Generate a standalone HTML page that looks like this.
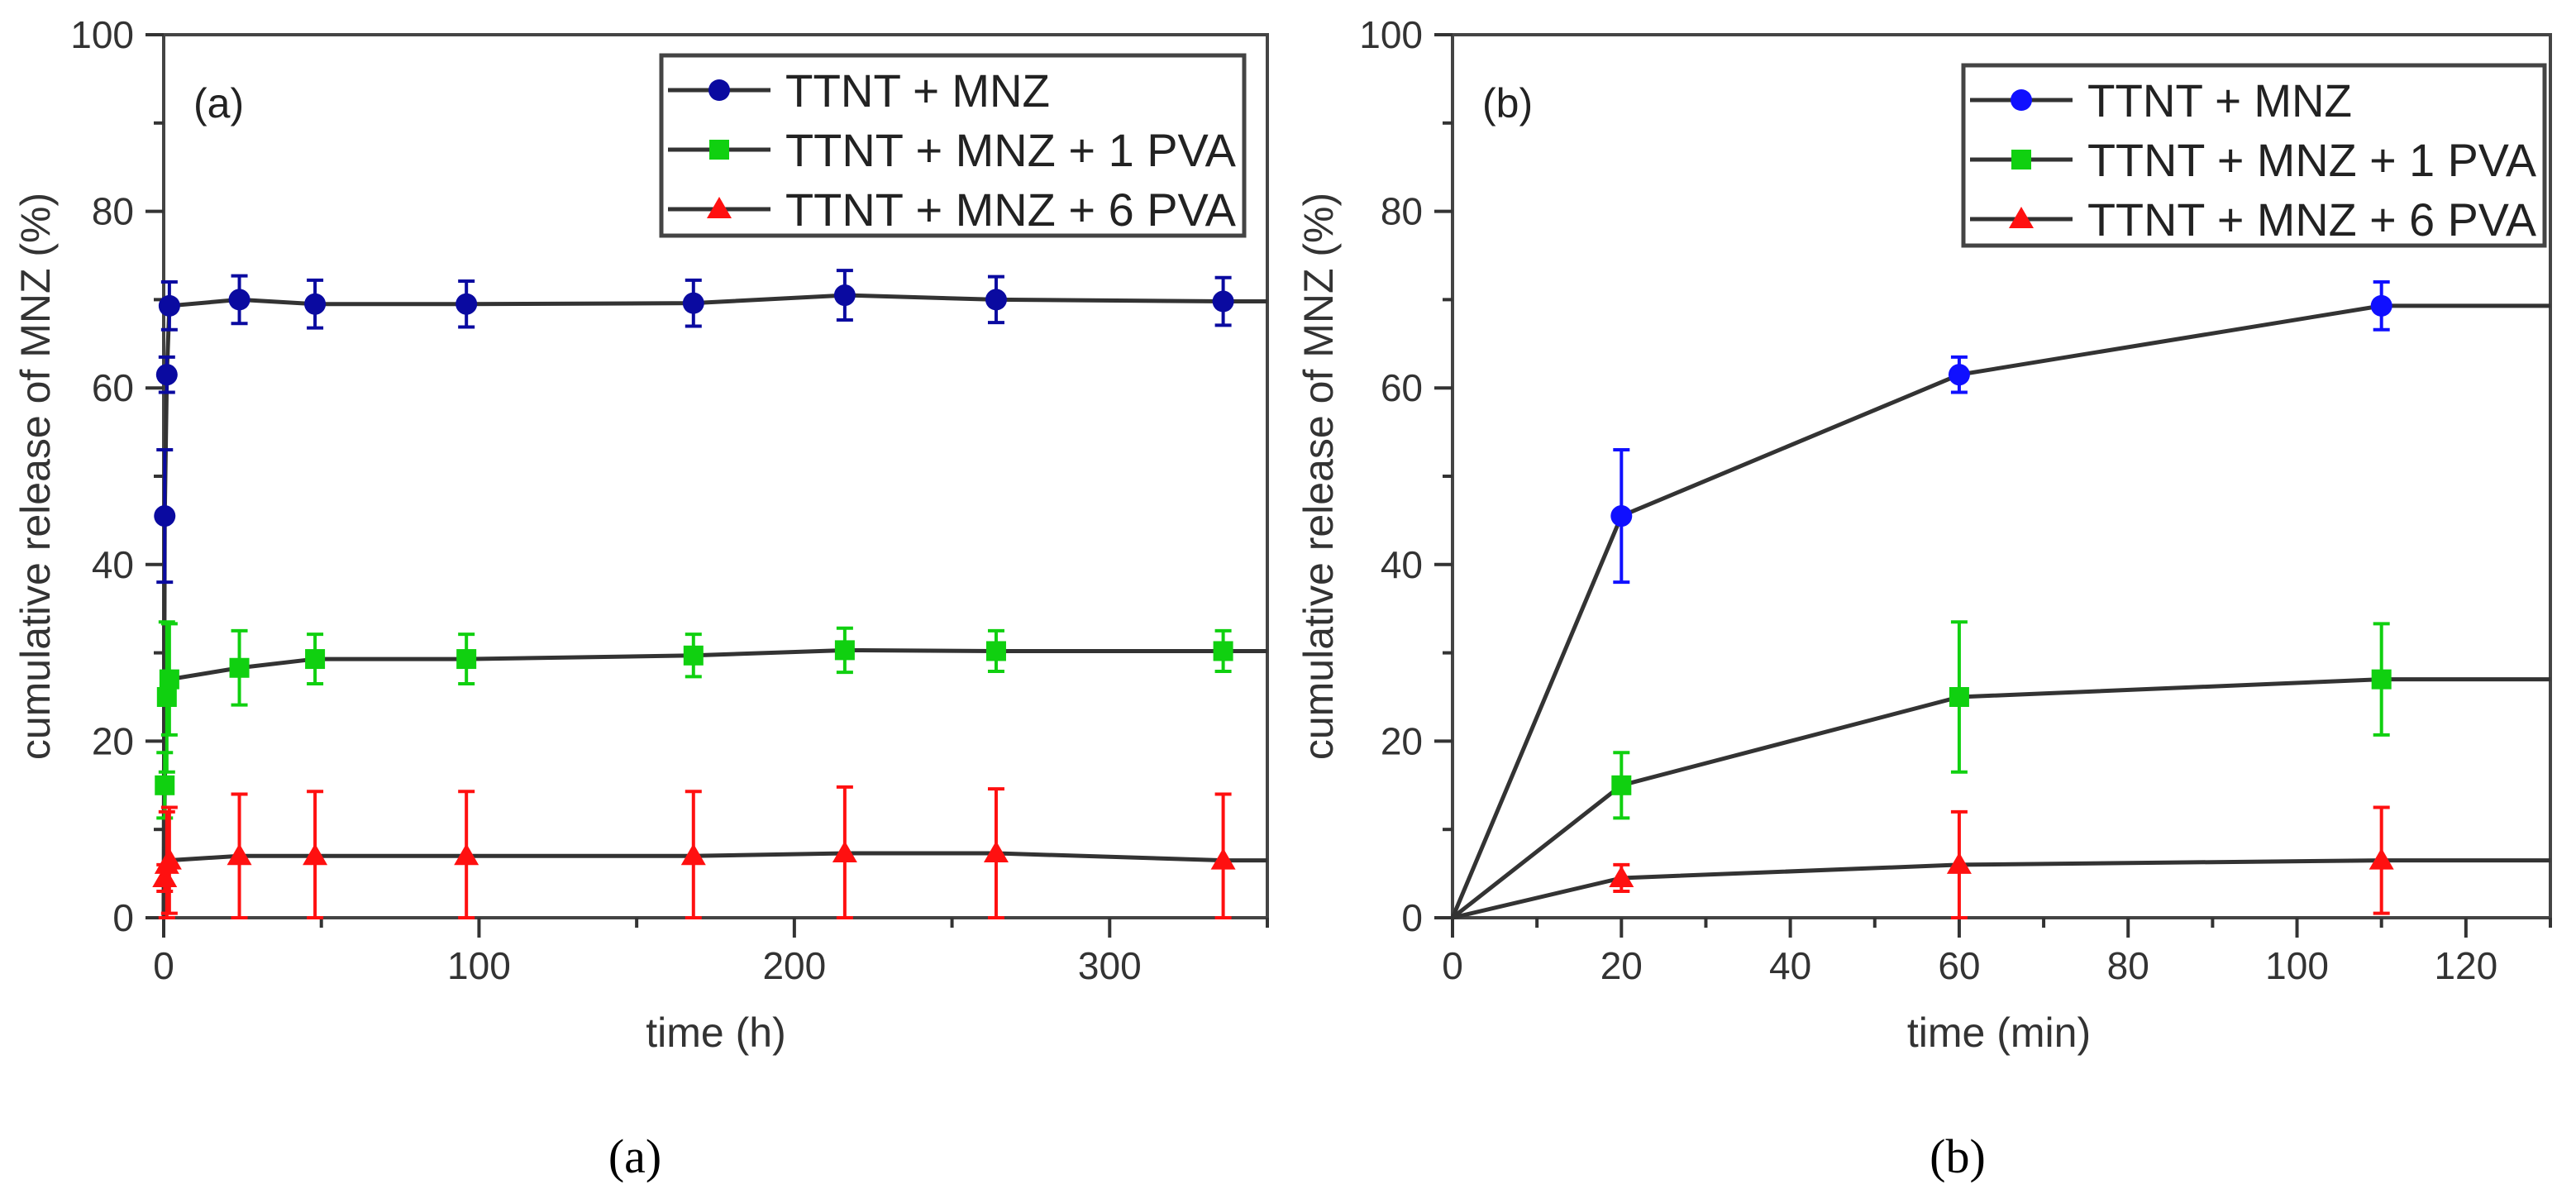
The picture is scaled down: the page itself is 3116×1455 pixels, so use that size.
<!DOCTYPE html>
<html><head><meta charset="utf-8"><style>
html,body{margin:0;padding:0;background:#fff;}
svg{display:block;font-family:"Liberation Sans",Arial,sans-serif;}
</style></head><body>
<svg id="fig" width="3116" height="1455" viewBox="0 0 3116 1455" xmlns="http://www.w3.org/2000/svg">
<rect width="3116" height="1455" fill="#fff"/>
</svg>
<script>
// ---- Panel (a): time in hours ----
const aTime = [0, 0.33, 1, 1.8, 24, 48, 96, 168, 216, 264, 336];
const aBlue = [0, 45.5, 61.5, 69.3, 70, 69.5, 69.5, 69.6, 70.5, 70, 69.8];
const aBlueErr = [0, 7.5, 2, 2.7, 2.7, 2.7, 2.6, 2.6, 2.8, 2.6, 2.7];
const aGreen = [0, 15, 25, 27, 28.3, 29.3, 29.3, 29.7, 30.3, 30.2, 30.2];
const aGreenErr = [0, 3.7, 8.5, 6.3, 4.2, 2.8, 2.8, 2.4, 2.5, 2.3, 2.3];
const aRed = [0, 4.5, 6, 6.5, 7, 7, 7, 7, 7.3, 7.3, 6.5];
const aRedErr = [0, 1.5, 6, 6, 7, 7.3, 7.3, 7.3, 7.5, 7.3, 7.5];
const aXTicks = [0, 100, 200, 300];
// ---- Panel (b): time in minutes ----
const bTime = [0, 20, 60, 110];
const bBlue = [0, 45.5, 61.5, 69.3];
const bBlueErr = [0, 7.5, 2, 2.7];
const bGreen = [0, 15, 25, 27];
const bGreenErr = [0, 3.7, 8.5, 6.3];
const bRed = [0, 4.5, 6, 6.5];
const bRedErr = [0, 1.5, 6, 6];
const bXTicks = [0, 20, 40, 60, 80, 100, 120];
const yTicks = [0, 20, 40, 60, 80, 100];
const legendLabels = ["TTNT + MNZ", "TTNT + MNZ + 1 PVA", "TTNT + MNZ + 6 PVA"];

const NS = "http://www.w3.org/2000/svg";
const svg = document.getElementById('fig');
function mk(tag, attrs, parent, text){
  const e = document.createElementNS(NS, tag);
  for (const k in attrs) e.setAttribute(k, attrs[k]);
  if (text !== undefined) e.textContent = text;
  (parent || svg).appendChild(e);
  return e;
}

function panel(cfg){
  const g = mk('g', {});
  
  
  const L = cfg.left, R = cfg.right, T = 42, B = 1110;
  const sx = v => L + (v - cfg.xmin) / (cfg.xmax - cfg.xmin) * (R - L);
  const sy = v => B - v / 100 * (B - T);
  // frame
  const fr = mk('rect', {x:L, y:T, width:R-L, height:B-T, fill:'none', stroke:'#444', 'stroke-width':4}, g);
  
  
  // y ticks
  for (let v = 0; v <= 100; v += 10){
    const major = v % 20 === 0;
    mk('line', {x1:L - (major?22:12), x2:L, y1:sy(v), y2:sy(v), stroke:'#333', 'stroke-width':4}, g);
  }
  yTicks.forEach(v => {
    const t = mk('text', {x:L-36, y:sy(v)+16, 'text-anchor':'end', 'font-size':46, fill:'#333'}, g, String(v));
    
    
  });
  // x ticks
  for (let v = cfg.xmin; v <= cfg.xmax + 0.001; v += cfg.minor){
    const major = Math.abs(v / cfg.major - Math.round(v / cfg.major)) < 1e-6;
    mk('line', {x1:sx(v), x2:sx(v), y1:B, y2:B + (major?24:12), stroke:'#333', 'stroke-width':4}, g);
  }
  cfg.xticks.forEach(v => {
    const t = mk('text', {x:sx(v), y:1184, 'text-anchor':'middle', 'font-size':46, fill:'#333'}, g, String(v));
    
    
  });
  const xt = mk('text', {x:cfg.xtitleX, y:1266, 'text-anchor':'middle', 'font-size':50, fill:'#333'}, g, cfg.xtitle);
  
  
  const yt = mk('text', {x:0, y:0, 'text-anchor':'middle', 'font-size':50, fill:'#333', transform:`translate(${cfg.ytitleX},576) rotate(-90)`}, g, 'cumulative release of MNZ (%)');
  
  
  const pl = mk('text', {x:L+36, y:142, 'font-size':50, fill:'#222'}, g, cfg.tag);
  
  
  const cap = mk('text', {x:cfg.capX, y:1418, 'text-anchor':'middle', 'font-size':58, fill:'#000', 'font-family':'"Liberation Serif",serif'}, svg, cfg.tag);
  
  

  const series = [
    {y:cfg.blue, e:cfg.blueErr, c:cfg.blueColor, m:'circle', n:'series-mnz'},
    {y:cfg.green, e:cfg.greenErr, c:'#10d010', m:'square', n:'series-1pva'},
    {y:cfg.red, e:cfg.redErr, c:'#ff1010', m:'triangle', n:'series-6pva'}
  ];
  function marker(m, x, y, c, parent){
    let el;
    if (m === 'circle') el = mk('circle', {cx:x, cy:y, r:13, fill:c}, parent);
    else if (m === 'square') el = mk('rect', {x:x-12, y:y-12, width:24, height:24, fill:c}, parent);
    else el = mk('polygon', {points:`${x},${y-15} ${x+15},${y+11} ${x-15},${y+11}`, fill:c}, parent);
    return el;
  }
  series.forEach(s => {
    const sg = mk('g', {}, g);
    
    
    const pts = cfg.time.map((t,i) => `${sx(t)},${sy(s.y[i])}`);
    pts.push(`${sx(cfg.xmax)},${sy(s.y[s.y.length-1])}`);
    mk('polyline', {points:pts.join(' '), fill:'none', stroke:'#333', 'stroke-width':5}, sg);
    cfg.time.forEach((t,i) => {
      if (i === 0) return;
      const x = sx(t), e = s.e[i];
      const lo = Math.max(0, s.y[i]-e), hi = s.y[i]+e;
      const eb = mk('path', {d:`M${x},${sy(lo)}V${sy(hi)}M${x-10},${sy(hi)}H${x+10}M${x-10},${sy(lo)}H${x+10}`, stroke:s.c, 'stroke-width':4, fill:'none'}, sg);
      
      
      const mkr = marker(s.m, x, sy(s.y[i]), s.c, sg);
      
      
    });
  });
  // legend
  const lg = mk('g', {}, g);
  
  
  const lx = cfg.legX, ly = cfg.legY;
  mk('rect', {x:lx, y:ly, width:cfg.legW, height:218, fill:'#fff', stroke:'#444', 'stroke-width':5}, lg);
  series.forEach((s,i) => {
    const y = ly + 42 + i*72;
    const le = mk('g', {}, lg);
    
    
    mk('line', {x1:lx+8, x2:lx+132, y1:y, y2:y, stroke:'#333', 'stroke-width':5}, le);
    marker(s.m, lx+70, y, s.c, le);
    mk('text', {x:lx+150, y:y+20, 'font-size':56, fill:'#222', textLength:cfg.legTL[i], lengthAdjust:'spacingAndGlyphs'}, le, legendLabels[i]);
  });
}

panel({name:'panel-a', left:198, right:1533, xmin:0, xmax:350, minor:50, major:100,
  xticks:aXTicks, time:aTime, blue:aBlue, blueErr:aBlueErr, green:aGreen, greenErr:aGreenErr, red:aRed, redErr:aRedErr,
  blueColor:'#0a0aa0', xtitle:'time (h)', xtitleX:866, ytitleX:60, tag:'(a)', capX:768,
  legX:800, legY:67, legW:705, legTL:[320, 545, 545]});
panel({name:'panel-b', left:1757, right:3085, xmin:0, xmax:130, minor:10, major:20,
  xticks:bXTicks, time:bTime, blue:bBlue, blueErr:bBlueErr, green:bGreen, greenErr:bGreenErr, red:bRed, redErr:bRedErr,
  blueColor:'#1010ff', xtitle:'time (min)', xtitleX:2418, ytitleX:1612, tag:'(b)', capX:2368,
  legX:2375, legY:79, legW:703, legTL:[320, 543, 543]});
</script>
</body></html>
